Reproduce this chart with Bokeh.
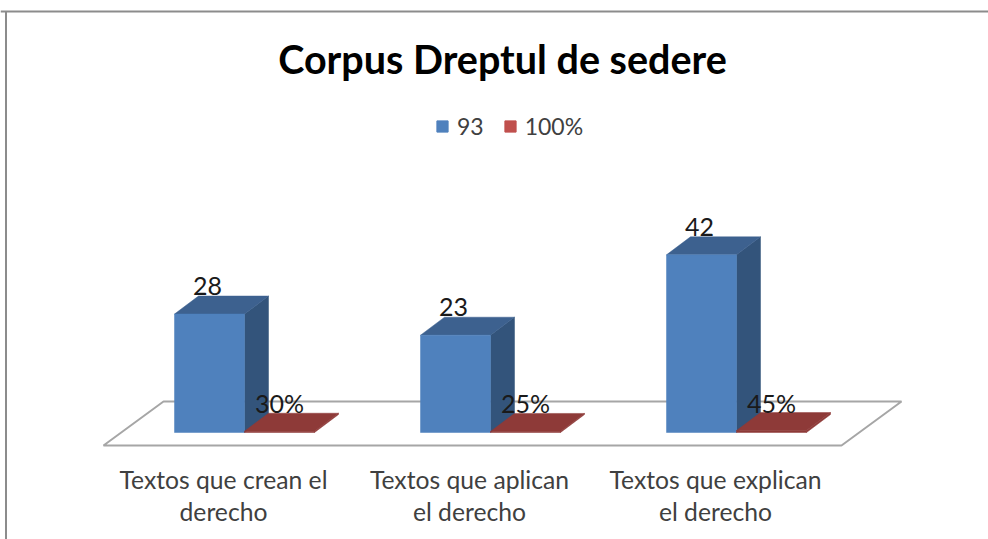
from bokeh.plotting import figure
from bokeh.models import Range1d, FixedTicker, Legend, LegendItem, Span, Label
from bokeh.embed import file_html
from bokeh.resources import INLINE

categories = ["Textos que crean el\nderecho", "Textos que aplican\nel derecho", "Textos que explican\nel derecho"]
series_93 = [28, 23, 42]
series_pct = [0.30, 0.25, 0.45]
labels_93 = ["28", "23", "42"]
labels_pct = ["30%", "25%", "45%"]
series_names = ["93", "100%"]
title_text = "Corpus Dreptul de sedere"

W, H = 988, 539
FRAME_BOTTOM = 447
X0, PX_X = 103, 246.0      # screen x of axis start; px per category
Y0, PX_Y = 432, 4.23       # screen y of value 0; px per value unit
dx_depth, dy_depth = 24 / PX_X, 18 / PX_Y
bar_w = 70 / PX_X
plane_shift = 18 / PX_X

p = figure(width=W, height=H, output_backend="svg", toolbar_location=None,
           x_range=Range1d(-X0 / PX_X, (W - X0) / PX_X),
           y_range=Range1d((Y0 - FRAME_BOTTOM) / PX_Y, Y0 / PX_Y),
           min_border=0, min_border_left=0, min_border_right=0, min_border_top=0,
           min_border_bottom=H - FRAME_BOTTOM, margin=0,
           outline_line_color=None, background_fill_color=None, border_fill_color=None)
# left rule of the chart frame runs the full height, past the plot frame
p.styles = {"background": "linear-gradient(#8c8c8c,#8c8c8c) 5px 11px / 2px 528px no-repeat white"}
p.grid.visible = False
p.yaxis.visible = False

ax = p.xaxis[0]
tick_pos = [i + 0.5 - 3 / PX_X for i in range(3)]
ax.ticker = FixedTicker(ticks=tick_pos)
ax.major_label_overrides = {t: c for t, c in zip(tick_pos, categories)}
ax.axis_line_color = None
ax.major_tick_line_color = None
ax.minor_tick_line_color = None
ax.major_label_standoff = 11
ax.major_label_text_font = "Lato"
ax.major_label_text_font_size = "24.7px"
ax.major_label_text_color = "#404040"
ax.major_label_text_line_height = 1.13
ax.major_label_orientation = "horizontal"

# top rule of the chart frame
p.add_layout(Span(location=(Y0 - 11) / PX_Y, dimension="width", line_color="#8c8c8c", line_width=2))

# floor of the 3D plot
floor_front, floor_back = -13 / PX_Y, 31 / PX_Y
floor_dx = 60 / PX_X
p.patch([0, 3, 3 + floor_dx, floor_dx], [floor_front, floor_front, floor_back, floor_back],
        fill_color="white", line_color="#a6a6a6", line_width=2)


def boxes(values, offset, front, top, side):
    lefts = [i + 0.5 - bar_w + plane_shift + offset for i in range(len(values))]
    rights = [l + bar_w for l in lefts]
    px, py, tx, ty, sx, sy = [], [], [], [], [], []
    for l, r, v in zip(lefts, rights, values):
        px.append([l, r, r, l]); py.append([0, 0, v, v])
        tx.append([l, r, r + dx_depth, l + dx_depth]); ty.append([v, v, v + dy_depth, v + dy_depth])
        sx.append([r, r + dx_depth, r + dx_depth, r]); sy.append([0, dy_depth, v + dy_depth, v])
    p.patches(sx, sy, fill_color=side, line_color=side, line_width=0.5)
    p.patches(tx, ty, fill_color=top, line_color=top, line_width=0.5)
    p.patches(px, py, fill_color=front, line_color=front, line_width=0.5)
    return [(a + b) / 2 for a, b in zip(lefts, rights)]


cx_blue = boxes(series_93, 0, "#4f81bd", "#3d618f", "#33547b")
cx_red = boxes(series_pct, bar_w, "#8e3a38", "#8e3a38", "#8e3a38")

for xs, ys, txt, xo in [(cx_blue, series_93, labels_93, -2), (cx_red, series_pct, labels_pct, 0)]:
    for x, y, t in zip(xs, ys, txt):
        p.add_layout(Label(x=x, y=y, text=t, text_font="Lato", text_font_size="25px",
                           text_color="#1a1a1a", text_align="center", text_baseline="middle",
                           x_offset=xo, y_offset=28))

# title
p.add_layout(Label(x=(502 - X0) / PX_X, y=(Y0 - 58) / PX_Y, text=title_text,
                   text_font="Lato", text_font_style="bold", text_font_size="39.5px", text_color="black",
                   text_align="center", text_baseline="middle"))

# legend swatches: keyed by NaN points, so only the legend shows them
nan = float("nan")
sw_blue = p.quad(left=[nan], right=[nan], top=[nan], bottom=[nan], fill_color="#4f81bd", line_color="#4f81bd")
sw_red = p.quad(left=[nan], right=[nan], top=[nan], bottom=[nan], fill_color="#c0504d", line_color="#c0504d")
leg = Legend(items=[LegendItem(label=series_names[0], renderers=[sw_blue], index=0),
                    LegendItem(label=series_names[1], renderers=[sw_red], index=0)],
             orientation="horizontal", location=(435, 447 - 140),
             border_line_color=None, background_fill_alpha=0,
             label_text_font="Lato", label_text_font_size="23px", label_text_color="#404040",
             glyph_width=14, glyph_height=14, label_standoff=8, spacing=19, margin=0, padding=5)
p.add_layout(leg, "center")

open("out.html", "w").write(file_html(p, INLINE))
